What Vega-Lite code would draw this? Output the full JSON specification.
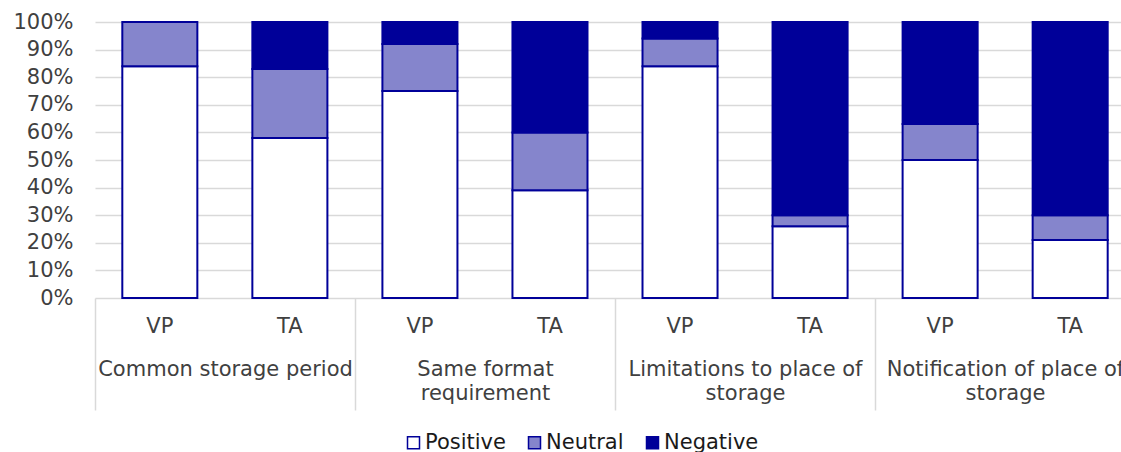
{
  "$schema": "https://vega.github.io/schema/vega-lite/v6.json",
  "autosize": {"type": "none"},
  "padding": {"left": 95, "top": 22, "right": 0, "bottom": 154},
  "width": 1026,
  "height": 276,
  "background": "white",
  "config": {
    "view": {"stroke": null},
    "font": "DejaVu Sans",
    "axis": {"labelFont": "DejaVu Sans", "labelColor": "#404040", "labelFontSize": 21},
    "legend": {"labelFont": "DejaVu Sans"}
  },
  "data": {
    "values": [
      {"group": "Common storage period", "sub": "VP", "sentiment": "Positive", "value": 84, "o": 1},
      {"group": "Common storage period", "sub": "VP", "sentiment": "Neutral", "value": 16, "o": 2},
      {"group": "Common storage period", "sub": "VP", "sentiment": "Negative", "value": 0, "o": 3},
      {"group": "Common storage period", "sub": "TA", "sentiment": "Positive", "value": 58, "o": 1},
      {"group": "Common storage period", "sub": "TA", "sentiment": "Neutral", "value": 25, "o": 2},
      {"group": "Common storage period", "sub": "TA", "sentiment": "Negative", "value": 17, "o": 3},
      {"group": "Same format requirement", "sub": "VP", "sentiment": "Positive", "value": 75, "o": 1},
      {"group": "Same format requirement", "sub": "VP", "sentiment": "Neutral", "value": 17, "o": 2},
      {"group": "Same format requirement", "sub": "VP", "sentiment": "Negative", "value": 8, "o": 3},
      {"group": "Same format requirement", "sub": "TA", "sentiment": "Positive", "value": 39, "o": 1},
      {"group": "Same format requirement", "sub": "TA", "sentiment": "Neutral", "value": 21, "o": 2},
      {"group": "Same format requirement", "sub": "TA", "sentiment": "Negative", "value": 40, "o": 3},
      {"group": "Limitations to place of storage", "sub": "VP", "sentiment": "Positive", "value": 84, "o": 1},
      {"group": "Limitations to place of storage", "sub": "VP", "sentiment": "Neutral", "value": 10, "o": 2},
      {"group": "Limitations to place of storage", "sub": "VP", "sentiment": "Negative", "value": 6, "o": 3},
      {"group": "Limitations to place of storage", "sub": "TA", "sentiment": "Positive", "value": 26, "o": 1},
      {"group": "Limitations to place of storage", "sub": "TA", "sentiment": "Neutral", "value": 4, "o": 2},
      {"group": "Limitations to place of storage", "sub": "TA", "sentiment": "Negative", "value": 70, "o": 3},
      {"group": "Notification of place of storage", "sub": "VP", "sentiment": "Positive", "value": 50, "o": 1},
      {"group": "Notification of place of storage", "sub": "VP", "sentiment": "Neutral", "value": 13, "o": 2},
      {"group": "Notification of place of storage", "sub": "VP", "sentiment": "Negative", "value": 37, "o": 3},
      {"group": "Notification of place of storage", "sub": "TA", "sentiment": "Positive", "value": 21, "o": 1},
      {"group": "Notification of place of storage", "sub": "TA", "sentiment": "Neutral", "value": 9, "o": 2},
      {"group": "Notification of place of storage", "sub": "TA", "sentiment": "Negative", "value": 70, "o": 3}
    ]
  },
  "transform": [{"calculate": "datum.group + '|' + datum.sub", "as": "key"}],
  "layer": [
    {
      "mark": {"type": "bar", "stroke": "#000099", "strokeWidth": 2},
      "encoding": {
        "x": {
          "field": "key",
          "type": "nominal",
          "sort": null,
          "scale": {"paddingInner": 0.423, "paddingOuter": 0.21, "range": [0, 1040]},
          "axis": {
            "title": null,
            "ticks": false,
            "domain": false,
            "labelAngle": 0,
            "labelPadding": 17,
            "labelExpr": "split(datum.value, '|')[1]"
          }
        },
        "y": {
          "field": "value",
          "type": "quantitative",
          "stack": "normalize",
          "scale": {"domain": [0, 1]},
          "axis": {
            "title": null,
            "format": ".0%",
            "values": [0, 0.1, 0.2, 0.3, 0.4, 0.5, 0.6, 0.7, 0.8, 0.9, 1],
            "grid": true,
            "gridColor": "#d9d9d9",
            "gridWidth": 1.5,
            "domain": false,
            "ticks": false,
            "labelPadding": 22
          }
        },
        "color": {
          "field": "sentiment",
          "type": "nominal",
          "scale": {"domain": ["Positive", "Neutral", "Negative"], "range": ["#ffffff", "#8585cc", "#000099"]},
          "legend": {
            "title": null,
            "orient": "none",
            "direction": "horizontal",
            "legendX": 308,
            "legendY": 410,
            "symbolType": "square",
            "symbolSize": 144,
            "symbolStrokeColor": "#000099",
            "symbolStrokeWidth": 1.5,
            "labelFontSize": 21,
            "labelColor": "#1a1a1a",
            "labelOffset": 1,
            "columnPadding": 18
          }
        },
        "order": {"field": "o", "type": "quantitative"}
      }
    },
    {
      "mark": {"type": "text", "opacity": 0},
      "encoding": {
        "text": {"value": ""},
        "x": {
          "field": "group",
          "type": "nominal",
          "sort": null,
          "scale": {"paddingInner": 0, "paddingOuter": 0, "range": [0, 1040]},
          "axis": {
            "title": null,
            "orient": "bottom",
            "domain": false,
            "ticks": true,
            "tickBand": "extent",
            "tickSize": 112,
            "tickColor": "#d9d9d9",
            "tickWidth": 1.5,
            "labelAngle": 0,
            "labelPadding": -52,
            "labelLimit": 0,
            "labelOverlap": false,
            "labelBound": false,
            "labelFlush": false,
            "labelLineHeight": 24,
            "labelBaseline": "top",
            "labelExpr": "datum.value == 'Same format requirement' ? ['Same format', 'requirement'] : datum.value == 'Limitations to place of storage' ? ['Limitations to place of', 'storage'] : datum.value == 'Notification of place of storage' ? ['Notification of place of', 'storage'] : datum.value"
          }
        }
      }
    }
  ],
  "resolve": {"scale": {"x": "independent"}, "axis": {"x": "independent"}}
}
